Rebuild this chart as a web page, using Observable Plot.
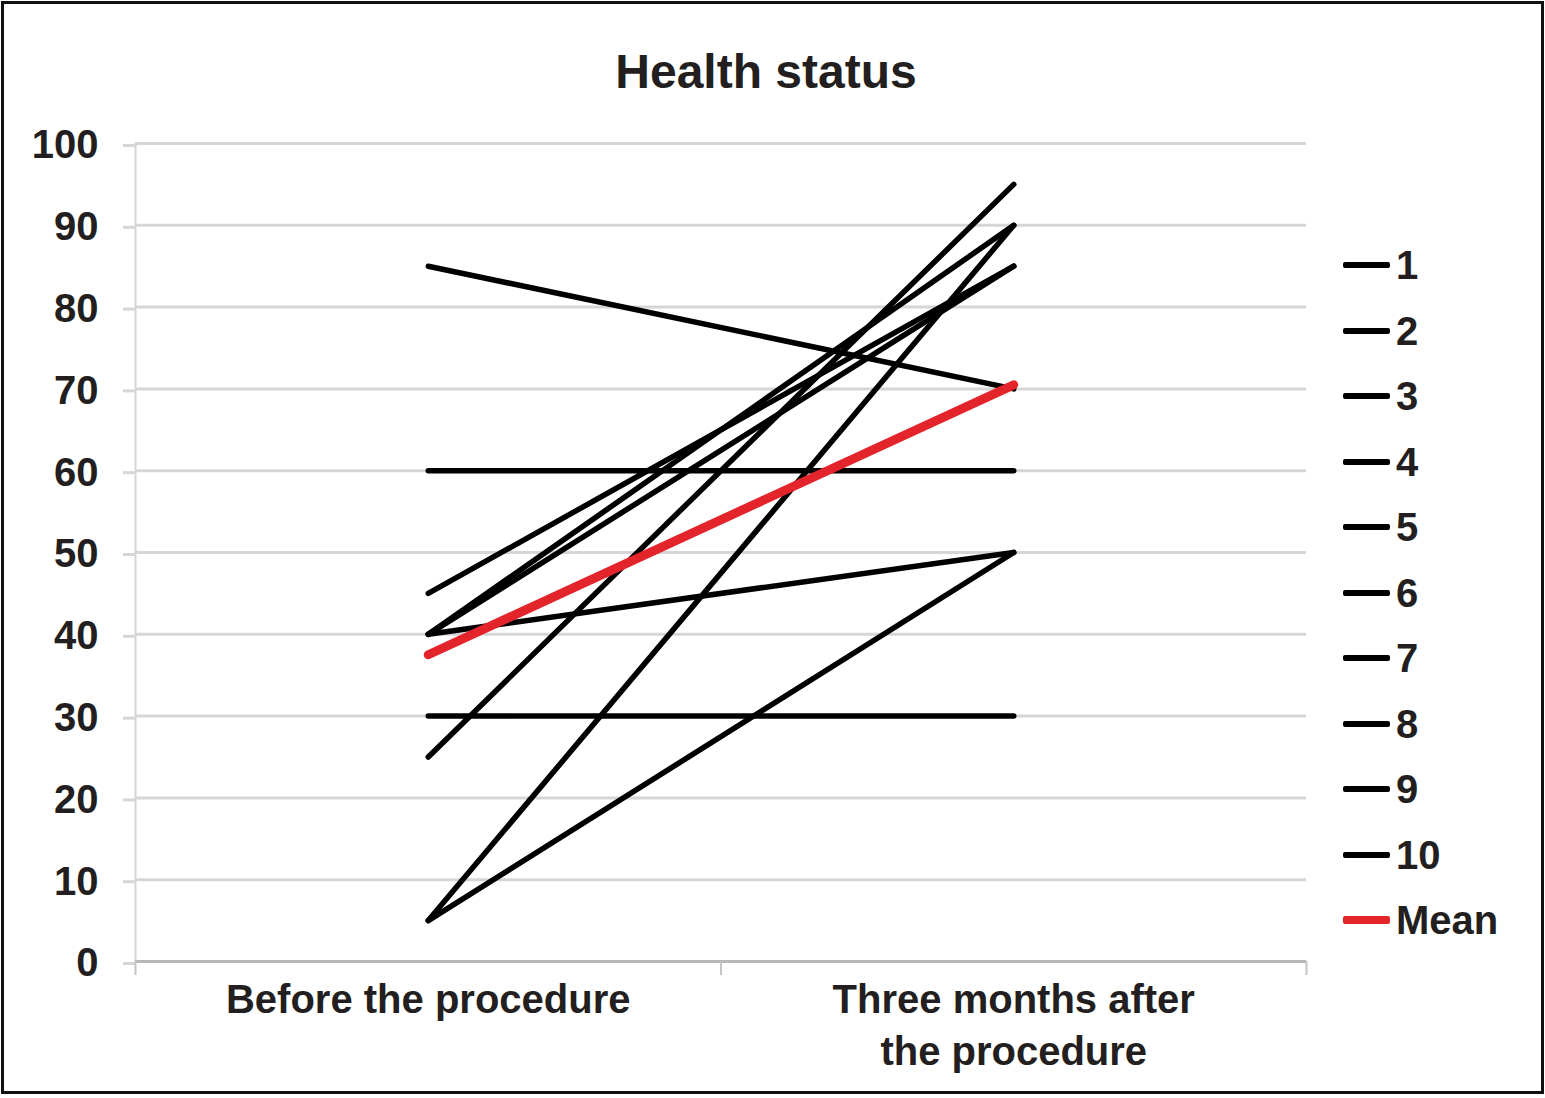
<!DOCTYPE html>
<html>
<head>
<meta charset="utf-8">
<script src="https://cdn.jsdelivr.net/npm/d3@7"></script>
<script src="https://cdn.jsdelivr.net/npm/@observablehq/plot@0.6"></script>
<style>
  html, body { margin: 0; padding: 0; background: #fff; overflow: hidden; }
  #wrap { position: relative; width: 1545px; height: 1098px; font-family: "Liberation Sans", Arial, sans-serif; color: #231f20; }
  #frame { position: absolute; left: 1px; top: 1px; width: 1543px; height: 1093px; border: 3px solid #111; box-sizing: border-box; pointer-events: none; }
  #title { position: absolute; left: 0; top: 44px; width: 1532px; text-align: center; font-size: 48px; font-weight: bold; line-height: 56px; }
  #chart { position: absolute; left: 0; top: 0; }
  #legend { position: absolute; left: 1343px; top: 0; }
  .item { position: absolute; left: 0; height: 40px; display: flex; align-items: center; white-space: nowrap; }
  .swatch { width: 47px; height: 6px; background: #000; border-radius: 2px; margin-right: 6px; }
  .lab { font-size: 40px; font-weight: bold; line-height: 40px; }
</style>
</head>
<body>
<div id="wrap">
  <div id="title">Health status</div>
  <div id="chart"></div>
  <div id="legend"></div>
  <div id="frame"></div>
</div>
<script>
// ---- data ----
const categories = ["Before the procedure", "Three months after\nthe procedure"];
const patients = ["1", "2", "3", "4", "5", "6", "7", "8", "9", "10"];
const beforeValues = [85, 60, 30, 45, 40, 40, 40, 25, 5, 5];
const afterValues  = [70, 60, 30, 85, 90, 85, 50, 95, 90, 50];
const meanValues = [37.5, 70.5];
const yTicks = [0, 10, 20, 30, 40, 50, 60, 70, 80, 90, 100];
const legendLabels = [...patients, "Mean"];

// ---- build tables ----
const rows = patients.flatMap((p, i) => [
  {series: p, x: 0.5, v: beforeValues[i]},
  {series: p, x: 1.5, v: afterValues[i]}
]);
const meanRows = meanValues.map((v, i) => ({series: "Mean", x: i + 0.5, v}));

const W = 1545, H = 1098;
const chart = Plot.plot({
  width: W,
  height: H,
  marginTop: 143,
  marginBottom: H - 961,
  marginLeft: 135,
  marginRight: W - 1306,
  x: {domain: [0, categories.length], axis: null},
  y: {domain: [0, 100], axis: null},
  style: {fontFamily: '"Liberation Sans", Arial, sans-serif', fontWeight: "bold", fontSize: "40px", color: "#231f20", background: "transparent", overflow: "visible"},
  marks: [
    Plot.gridY({ticks: yTicks, stroke: "#d6d6d6", strokeOpacity: 1, strokeWidth: 3}),
    Plot.ruleX([0], {stroke: "#d6d6d6", strokeWidth: 2}),
    Plot.axisY({ticks: yTicks, label: null, tickSize: 12, tickPadding: 25, stroke: "#d6d6d6", strokeWidth: 3, fontSize: 40, fill: "#231f20", dy: 2}),
    Plot.ruleY([0], {stroke: "#b8b8b8", strokeWidth: 3}),
    Plot.axisX({ticks: d3.range(categories.length + 1), label: null, tickSize: 14, tickFormat: () => "", stroke: "#c4c4c4", strokeWidth: 2}),
    Plot.axisX({ticks: categories.map((c, i) => i + 0.5), label: null, tickFormat: t => categories[Math.floor(t)], tickSize: 0, tickPadding: 15, lineHeight: 1.3, fontSize: 40, fill: "#231f20"}),
    Plot.line(rows, {x: "x", y: "v", z: "series", stroke: "#000", strokeWidth: 5.5, strokeLinecap: "round"}),
    Plot.line(meanRows, {x: "x", y: "v", stroke: "#e3252b", strokeWidth: 9, strokeLinecap: "round"})
  ]
});
document.getElementById("chart").appendChild(chart);

// ---- legend ----
const legend = document.getElementById("legend");
legendLabels.forEach((lab, i) => {
  const item = document.createElement("div");
  item.className = "item";
  item.style.top = (265 + i * 65.5 - 20) + "px";
  const sw = document.createElement("div");
  sw.className = "swatch";
  if (lab === "Mean") { sw.style.background = "#e3252b"; sw.style.height = "8px"; }
  const t = document.createElement("span");
  t.className = "lab";
  t.textContent = lab;
  item.appendChild(sw);
  item.appendChild(t);
  legend.appendChild(item);
});
</script>
</body>
</html>
